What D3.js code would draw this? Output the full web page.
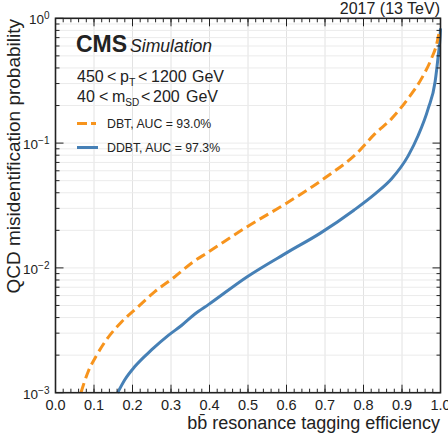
<!DOCTYPE html>
<html>
<head>
<meta charset="utf-8">
<script src="https://cdn.jsdelivr.net/npm/d3@7"></script>
<style>
  body { margin: 0; background: #fff; }
  text { font-family: "Liberation Sans", Arial, sans-serif; fill: #222; }
</style>
</head>
<body>
<script>
// ROC curves: signal efficiency vs QCD mistag rate
var dbtEff = [0.066, 0.085, 0.107, 0.129, 0.172, 0.215, 0.258, 0.310, 0.358, 0.394, 0.498, 0.6, 0.705, 0.783, 0.830, 0.873, 0.916, 0.951, 0.977, 0.990, 0.997];
var dbtMis = [1.0e-3, 1.48e-3, 2.0e-3, 2.57e-3, 3.7e-3, 4.9e-3, 6.45e-3, 8.5e-3, 1.12e-2, 1.32e-2, 2.14e-2, 3.3e-2, 5.4e-2, 8.3e-2, 0.119, 0.157, 0.228, 0.33, 0.48, 0.62, 0.79];
var ddbtEff = [0.1615, 0.18, 0.206, 0.250, 0.293, 0.328, 0.362, 0.398, 0.498, 0.6, 0.688, 0.775, 0.830, 0.873, 0.916, 0.942, 0.968, 0.986, 0.994, 0.999, 1.0];
var ddbtMis = [1.0e-3, 1.27e-3, 1.62e-3, 2.21e-3, 2.88e-3, 3.47e-3, 4.27e-3, 5.1e-3, 8.5e-3, 1.32e-2, 1.9e-2, 2.9e-2, 3.92e-2, 5.18e-2, 7.9e-2, 0.115, 0.189, 0.31, 0.50, 0.72, 0.83];
var xTicks = [0.0, 0.1, 0.2, 0.3, 0.4, 0.5, 0.6, 0.7, 0.8, 0.9, 1.0];
var yTicks = [1e-3, 1e-2, 1e-1, 1];
var yTickExp = ["\u22123", "\u22122", "\u22121", "0"];

var margin = { top: 18.3, right: 7.5, bottom: 45.3, left: 55.5 },
  width = 448 - margin.left - margin.right,
  height = 438 - margin.top - margin.bottom;

var x = d3.scaleLinear().domain([0, 1]).range([0, width]);
var y = d3.scaleLog().domain([1e-3, 1]).range([height, 0]);

var svg = d3.select("body").append("svg")
  .attr("width", 448)
  .attr("height", 438);

var g = svg.append("g")
  .attr("transform", "translate(" + margin.left + "," + margin.top + ")");

// minor log values 2..9 per decade
var yMinor = [];
[1e-3, 1e-2, 1e-1].forEach(function (d) {
  for (var k = 2; k <= 9; k++) yMinor.push(d * k);
});
var xMinor = d3.range(0, 1.0001, 0.02);

// grid
g.selectAll(".vgrid").data(xTicks.slice(1, -1)).enter().append("line")
  .attr("x1", x).attr("x2", x).attr("y1", 0).attr("y2", height)
  .attr("stroke", "#e2e2e2").attr("stroke-width", 1);
g.selectAll(".hgrid").data(yMinor.concat(yTicks.slice(1, -1))).enter().append("line")
  .attr("y1", y).attr("y2", y).attr("x1", 0).attr("x2", width)
  .attr("stroke", "#ebebeb").attr("stroke-width", 1);

// curves
var line = d3.line()
  .x(function (d) { return x(d[0]); })
  .y(function (d) { return y(d[1]); })
  .curve(d3.curveMonotoneX);

g.append("path")
  .datum(d3.zip(ddbtEff, ddbtMis))
  .attr("d", line)
  .attr("fill", "none")
  .attr("stroke", "#4680b6")
  .attr("stroke-width", 3);

g.append("path")
  .datum(d3.zip(dbtEff, dbtMis))
  .attr("d", line)
  .attr("fill", "none")
  .attr("stroke", "#f7941d")
  .attr("stroke-width", 3)
  .attr("stroke-dasharray", "10,5");

// ticks, inward on all four sides
var tk = g.append("g").attr("stroke", "#222").attr("stroke-width", 1);
xTicks.forEach(function (d) {
  tk.append("line").attr("x1", x(d)).attr("x2", x(d)).attr("y1", height).attr("y2", height - 8);
  tk.append("line").attr("x1", x(d)).attr("x2", x(d)).attr("y1", 0).attr("y2", 8);
});
xMinor.forEach(function (d) {
  tk.append("line").attr("x1", x(d)).attr("x2", x(d)).attr("y1", height).attr("y2", height - 4);
  tk.append("line").attr("x1", x(d)).attr("x2", x(d)).attr("y1", 0).attr("y2", 4);
});
yTicks.forEach(function (d) {
  tk.append("line").attr("y1", y(d)).attr("y2", y(d)).attr("x1", 0).attr("x2", 8);
  tk.append("line").attr("y1", y(d)).attr("y2", y(d)).attr("x1", width).attr("x2", width - 8);
});
yMinor.forEach(function (d) {
  tk.append("line").attr("y1", y(d)).attr("y2", y(d)).attr("x1", 0).attr("x2", 4);
  tk.append("line").attr("y1", y(d)).attr("y2", y(d)).attr("x1", width).attr("x2", width - 4);
});

// frame
g.append("rect")
  .attr("width", width).attr("height", height)
  .attr("fill", "none").attr("stroke", "#222").attr("stroke-width", 1.6);

// tick labels
g.selectAll(".xl").data(xTicks).enter().append("text")
  .attr("x", x).attr("y", height + 17)
  .attr("text-anchor", "middle")
  .style("font-size", "14.5px")
  .text(function (d) { return d.toFixed(1); });

yTicks.forEach(function (d, i) {
  var t = g.append("text")
    .attr("x", -6).attr("y", y(d) + 6)
    .attr("text-anchor", "end")
    .style("font-size", "13.5px");
  t.append("tspan").text("10");
  t.append("tspan").attr("dy", -5).style("font-size", "10px").text(yTickExp[i]);
});

// axis titles
svg.append("text")
  .attr("x", 440).attr("y", 429)
  .attr("text-anchor", "end")
  .style("font-size", "18px")
  .text("bb\u0304 resonance tagging efficiency");

svg.append("text")
  .attr("transform", "translate(20,19) rotate(-90)")
  .attr("text-anchor", "end")
  .style("font-size", "19px")
  .text("QCD misidentification probability");

svg.append("text")
  .attr("x", 440).attr("y", 14)
  .attr("text-anchor", "end")
  .style("font-size", "16px")
  .text("2017 (13 TeV)");

// CMS label
svg.append("text").attr("x", 76).attr("y", 52)
  .style("font-weight", "bold").style("font-size", "23px").text("CMS");
svg.append("text").attr("x", 130).attr("y", 52)
  .style("font-style", "italic").style("font-size", "17.6px").text("Simulation");

// kinematic cuts
var c1 = svg.append("text").attr("y", 82).style("font-size", "16px");
c1.append("tspan").attr("x", 77).text("450");
c1.append("tspan").attr("x", 107).text("<");
c1.append("tspan").attr("x", 120).text("p");
c1.append("tspan").attr("dy", 4).style("font-size", "10.5px").text("T");
c1.append("tspan").attr("x", 138).attr("dy", -4).text("<");
c1.append("tspan").attr("x", 151).text("1200");
c1.append("tspan").attr("x", 192).text("GeV");
var c2 = svg.append("text").attr("y", 102).style("font-size", "16px");
c2.append("tspan").attr("x", 77).text("40");
c2.append("tspan").attr("x", 99).text("<");
c2.append("tspan").attr("x", 112).text("m");
c2.append("tspan").attr("dy", 4).style("font-size", "10px").text("SD");
c2.append("tspan").attr("x", 141).attr("dy", -4).text("<");
c2.append("tspan").attr("x", 153).text("200");
c2.append("tspan").attr("x", 186).text("GeV");

// legend
var legend = [
  { name: "DBT, AUC = 93.0%", color: "#f7941d", dash: "10,4", x2: 96 },
  { name: "DDBT, AUC = 97.3%", color: "#4680b6", dash: null, x2: 98 }
];
legend.forEach(function (d, i) {
  var ly = 123.5 + i * 24;
  svg.append("line")
    .attr("x1", 77).attr("x2", d.x2).attr("y1", ly).attr("y2", ly)
    .attr("stroke", d.color).attr("stroke-width", 3)
    .attr("stroke-dasharray", d.dash);
  svg.append("text")
    .attr("x", 107).attr("y", ly + 4.5)
    .style("font-size", "12.3px")
    .text(d.name);
});
</script>
</body>
</html>
